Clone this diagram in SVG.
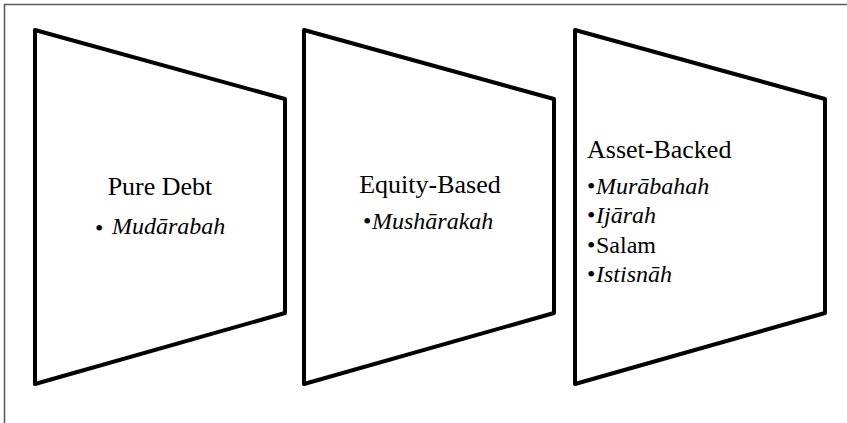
<svg xmlns="http://www.w3.org/2000/svg" width="847" height="423" viewBox="0 0 847 423">
<style>
.shape{fill:#fff;stroke:#000;stroke-width:4;stroke-linejoin:round}
text{font-family:'Liberation Serif','Times New Roman',serif;fill:#000}
.h{font-size:26px}
.i{font-size:24px}
.it{font-style:italic}
</style>
<rect width="847" height="423" fill="#fff"/>
<path d="M4.5,423 V4.5 H847" fill="none" stroke="#595959" stroke-width="1.5"/>
<g id="node-pure-debt">
<polygon class="shape" points="35,30 285,99 285,313 35,384"/>
<text class="h" x="160" y="195" text-anchor="middle">Pure Debt</text>
<text class="i" x="95" y="236" font-size="32">•</text>
<text class="i it" x="112" y="234">Mudārabah</text>
</g>
<g id="node-equity-based">
<polygon class="shape" points="304,30 554,99 554,313 304,384"/>
<text class="h" x="430" y="193" text-anchor="middle">Equity-Based</text>
<text class="i" x="363" y="229">•</text>
<text class="i it" x="372" y="229">Mushārakah</text>
</g>
<g id="node-asset-backed">
<polygon class="shape" points="575,30 825,99 825,313 575,384"/>
<text class="h" x="587" y="158">Asset-Backed</text>
<text class="i" x="587" y="194">•</text>
<text class="i it" x="596" y="194">Murābahah</text>
<text class="i" x="587" y="223">•</text>
<text class="i it" x="596" y="223">Ijārah</text>
<text class="i" x="587" y="253">•</text>
<text class="i" x="596" y="253">Salam</text>
<text class="i" x="587" y="282">•</text>
<text class="i it" x="596" y="282">Istisnāh</text>
</g>
<g id="connectors"></g>
</svg>
